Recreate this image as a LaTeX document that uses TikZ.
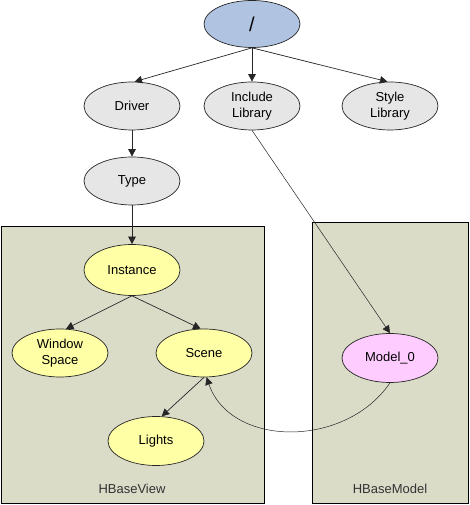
\documentclass[tikz,border=0pt]{standalone}
\usepackage{fontspec}
\setmainfont{Liberation Sans}
\usetikzlibrary{shapes.geometric,arrows.meta}
\definecolor{rootBlue}{HTML}{B0C4E2}
\definecolor{nodeGray}{HTML}{E6E6E6}
\definecolor{viewYellow}{HTML}{FFFFA6}
\definecolor{modelPink}{HTML}{FFCCFF}
\definecolor{boxOlive}{HTML}{DADCC8}
\tikzstyle{sceneGraph}=[%
	every path/.style = {%
		line width=0.7pt
	},%
	myEllipse/.style={%
		ellipse,
		draw=black!85,
		inner sep=0pt,
		minimum width=96pt,
		minimum height=48pt,
		align=center,
		font=\fontsize{13}{15.5}\selectfont
	},
	myBox/.style={%
		draw=black,
		line width=1pt,
		fill=boxOlive
	},
	myArrow/.style={%
		draw=black!85,
		-{Triangle[length=7.5pt,width=7.5pt]}
	},
	myLabel/.style={%
		text=black!80,
		font=\fontsize{13}{15.5}\selectfont
	}
]

\begin{document}
\begin{tikzpicture}[
	x=1pt,
	y=1pt,
	sceneGraph
]
	\useasboundingbox (0,0) rectangle (469,505);
	\draw [myBox] (1,1) rectangle (264,278);
	\draw [myBox] (312,1) rectangle (468,282);

	\node [myEllipse, fill=rootBlue, minimum height=47pt, font=\fontsize{20}{24}\selectfont] (root) at (252,481) {/};
	\node [myEllipse, fill=nodeGray] (drv) at (132,399) {Driver};
	\node [myEllipse, fill=nodeGray] (inc) at (252,399) {Include\\Library};
	\node [myEllipse, fill=nodeGray] (sty) at (390,399) {Style\\Library};
	\node [myEllipse, fill=nodeGray] (typ) at (132,324) {Type};

	\node [myEllipse, fill=viewYellow, minimum height=51pt] (ins) at (132,235) {Instance};
	\node [myEllipse, fill=viewYellow] (win) at (60,152) {Window\\Space};
	\node [myEllipse, fill=viewYellow] (scn) at (204,152) {Scene};
	\node [myEllipse, fill=viewYellow, minimum height=49pt] (lgt) at (156,64) {Lights};
	\node [myEllipse, fill=modelPink, minimum height=49pt] (mdl) at (390,147) {Model\_0};

	\node [myLabel] (viewName) at (132,16) {HBaseView};
	\node [myLabel] (modelName) at (390,16) {HBaseModel};

	\draw [myArrow] (root.south) -- (drv.84);
	\draw [myArrow] (root.south) -- (inc.north);
	\draw [myArrow] (root.south) -- (sty.96);
	\draw [myArrow] (drv.south) -- (typ.north);
	\draw [myArrow] (typ.south) -- (ins.north);
	\draw [myArrow] (ins.south) -- (win.76);
	\draw [myArrow] (ins.south) -- (scn.98);
	\draw [myArrow] (scn.south) -- (lgt.77);
	\draw [myArrow, line width=0.5pt] (inc.south) -- (mdl.north);
	\draw [myArrow, line width=0.5pt] (mdl.south) .. controls +(-45,-66) and +(24,-70) .. (scn.-84);
\end{tikzpicture}
\end{document}
